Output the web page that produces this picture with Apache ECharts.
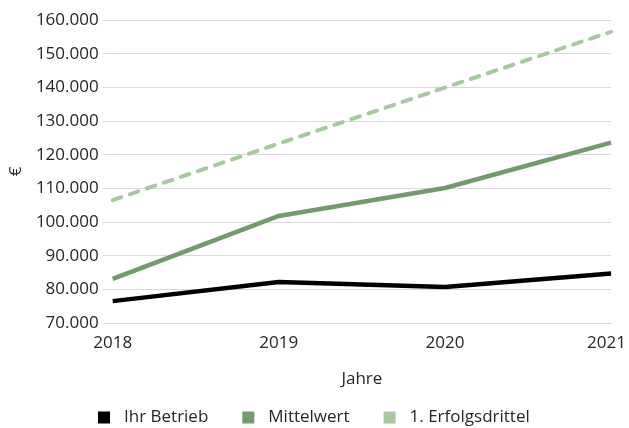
<!DOCTYPE html>
<html>
<head>
<meta charset="utf-8">
<script src="https://cdn.jsdelivr.net/npm/echarts@6/dist/echarts.min.js"></script>
<style>
  html, body { margin: 0; padding: 0; background: #fff; }
  #chart { width: 629px; height: 428px; }
</style>
</head>
<body>
<div id="chart"></div>
<script>
// Jahre
const years = ['2018', '2019', '2020', '2021']
// Werte in €
const ihrBetrieb = [76500, 82200, 80700, 84700]
const mittelwert = [83100, 101800, 110100, 123600]
const erfolgsdrittel = [106500, 123300, 139900, 156500]

const font = '"Open Sans", "Noto Sans", sans-serif'
const chart = echarts.init(document.getElementById('chart'))

const option = {
  animation: false,
  textStyle: { fontFamily: font, color: '#262626' },
  grid: { left: 97, right: 16, top: 20, bottom: 105 },
  legend: {
    left: 93,
    top: 404,
    icon: 'rect',
    itemWidth: 12,
    itemHeight: 12,
    itemGap: 34,
    textStyle: { fontSize: 17, color: '#262626', padding: [0, 0, 0, 9] },
    data: ['Ihr Betrieb', 'Mittelwert', '1. Erfolgsdrittel']
  },
  xAxis: {
    type: 'category',
    boundaryGap: false,
    data: years,
    name: 'Jahre',
    nameLocation: 'middle',
    nameGap: 48,
    nameTextStyle: { fontSize: 17, color: '#262626' },
    axisLine: { lineStyle: { color: '#d9d9d9' } },
    axisTick: { show: false },
    axisLabel: {
      fontSize: 17,
      color: '#262626',
      margin: 12,
      formatter: function (v) {
        return v === '2021' ? '{last|' + v + '}' : v
      },
      rich: { last: { fontSize: 17, color: '#262626', padding: [0, 9, 0, 0] } }
    }
  },
  yAxis: {
    type: 'value',
    min: 70000,
    max: 160000,
    interval: 10000,
    name: '€',
    nameLocation: 'middle',
    nameRotate: 90,
    nameGap: 76,
    nameTextStyle: { fontSize: 17, color: '#262626' },
    axisLine: { show: false },
    axisTick: { show: true, length: 10, lineStyle: { color: '#d9d9d9' } },
    splitLine: { lineStyle: { color: '#d9d9d9' } },
    axisLabel: {
      fontSize: 17,
      color: '#262626',
      margin: 14,
      formatter: function (v) {
        return v.toLocaleString('de-DE')
      }
    }
  },
  series: [
    {
      name: 'Ihr Betrieb',
      type: 'line',
      data: ihrBetrieb,
      symbol: 'none',
      itemStyle: { color: '#000000' },
      lineStyle: { color: '#000000', width: 4.5 }
    },
    {
      name: 'Mittelwert',
      type: 'line',
      data: mittelwert,
      symbol: 'none',
      itemStyle: { color: '#739a6d' },
      lineStyle: { color: '#739a6d', width: 4.5 }
    },
    {
      name: '1. Erfolgsdrittel',
      type: 'line',
      data: erfolgsdrittel,
      symbol: 'none',
      itemStyle: { color: '#a8c8a2' },
      lineStyle: { color: '#a8c8a2', width: 4, type: [9, 9], cap: 'round' }
    }
  ]
}

chart.setOption(option)
</script>
</body>
</html>
